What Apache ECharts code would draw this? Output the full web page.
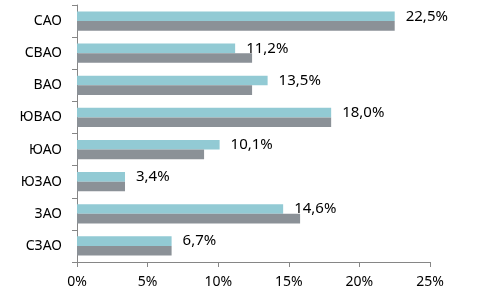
<!DOCTYPE html>
<html>
<head>
<meta charset="utf-8">
<script src="https://cdn.jsdelivr.net/npm/echarts@6/dist/echarts.min.js"></script>
<style>html,body{margin:0;padding:0;background:#fff;}#c{width:477px;height:295px;}</style>
</head>
<body>
<div id="c"></div>
<script>
var categories = ['САО', 'СВАО', 'ВАО', 'ЮВАО', 'ЮАО', 'ЮЗАО', 'ЗАО', 'СЗАО'];
var seriesA = [22.5, 11.2, 13.5, 18.0, 10.1, 3.4, 14.6, 6.7];
var seriesB = [22.5, 12.4, 12.4, 18.0, 9.0, 3.4, 15.8, 6.7];
var xTicks = [0, 5, 10, 15, 20, 25];

var chart = echarts.init(document.getElementById('c'), null, {renderer: 'canvas'});
var font = 'Noto Sans';
chart.setOption({
  animation: false,
  backgroundColor: '#ffffff',
  grid: {left: 77, right: 47, top: 5, bottom: 33, containLabel: false},
  xAxis: {
    type: 'value',
    min: xTicks[0],
    max: xTicks[xTicks.length - 1],
    interval: xTicks[1] - xTicks[0],
    axisLine: {show: true, lineStyle: {color: '#868686', width: 1}},
    axisTick: {show: true, length: 5, lineStyle: {color: '#868686'}},
    splitLine: {show: false},
    axisLabel: {formatter: '{value}%', color: '#000', fontFamily: font, fontSize: 14, margin: 13}
  },
  yAxis: {
    type: 'category',
    inverse: true,
    data: categories,
    axisLine: {show: true, lineStyle: {color: '#868686', width: 1}},
    axisTick: {show: true, length: 5, lineStyle: {color: '#868686'}},
    axisLabel: {color: '#000', fontFamily: font, fontSize: 14, margin: 15}
  },
  series: [
    {
      type: 'bar',
      data: seriesA,
      barGap: '0%',
      barCategoryGap: '40%',
      itemStyle: {color: '#92CAD4'},
      label: {
        show: true,
        position: 'right',
        distance: 11,
        color: '#000',
        fontFamily: font,
        fontSize: 15,
        formatter: function (p) { return p.value.toFixed(1).replace('.', ',') + '%'; }
      }
    },
    {
      type: 'bar',
      data: seriesB,
      barGap: '0%',
      barCategoryGap: '40%',
      itemStyle: {color: '#8B9197'}
    }
  ]
});
</script>
</body>
</html>
